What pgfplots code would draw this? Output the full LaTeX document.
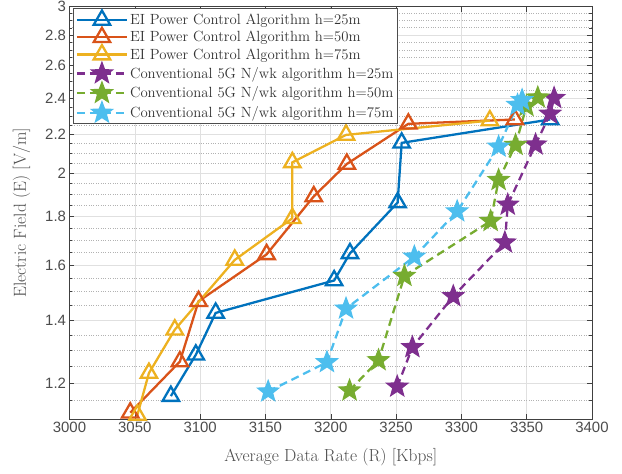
\documentclass[border=0pt]{standalone}
\usepackage{fontspec}
\setsansfont{Liberation Sans}
\usepackage{pgfplots}
\pgfplotsset{compat=1.18}
\definecolor{c1}{rgb}{0,0.447,0.741}
\definecolor{c2}{rgb}{0.850,0.325,0.098}
\definecolor{c3}{rgb}{0.929,0.694,0.125}
\definecolor{c4}{rgb}{0.494,0.184,0.556}
\definecolor{c5}{rgb}{0.466,0.674,0.188}
\definecolor{c6}{rgb}{0.301,0.745,0.933}
\pgfdeclareplotmark{pstar}{%
  \pgfpathmoveto{\pgfpointpolar{90}{\pgfplotmarksize}}%
  \pgfpathlineto{\pgfpointpolar{126}{0.42\pgfplotmarksize}}%
  \pgfpathlineto{\pgfpointpolar{162}{\pgfplotmarksize}}%
  \pgfpathlineto{\pgfpointpolar{198}{0.42\pgfplotmarksize}}%
  \pgfpathlineto{\pgfpointpolar{234}{\pgfplotmarksize}}%
  \pgfpathlineto{\pgfpointpolar{270}{0.42\pgfplotmarksize}}%
  \pgfpathlineto{\pgfpointpolar{306}{\pgfplotmarksize}}%
  \pgfpathlineto{\pgfpointpolar{342}{0.42\pgfplotmarksize}}%
  \pgfpathlineto{\pgfpointpolar{18}{\pgfplotmarksize}}%
  \pgfpathlineto{\pgfpointpolar{54}{0.42\pgfplotmarksize}}%
  \pgfpathclose
  \pgfusepathqfillstroke}
\begin{document}
\begin{tikzpicture}
\begin{axis}[
  scale only axis, width=522.5bp, height=412.3bp,
  xmin=3000, xmax=3400, ymin=1.1, ymax=3,
  ymode=log,
  xtick={3000,3050,3100,3150,3200,3250,3300,3350,3400},
  xticklabels={3000,3050,3100,3150,3200,3250,3300,3350,3400},
  ytick={1.2,1.4,1.6,1.8,2,2.2,2.4,2.6,2.8,3},
  yticklabels={1.2,1.4,1.6,1.8,2,2.2,2.4,2.6,2.8,3},
  minor ytick={1.15,1.25,1.3,1.35,1.45,1.5,1.55,1.65,1.7,1.75,1.85,1.9,1.95,2.05,2.1,2.15,2.25,2.3,2.35,2.45,2.5,2.55,2.65,2.7,2.75,2.85,2.9,2.95},
  grid=both,
  major grid style={black!12, line width=0.6pt},
  minor grid style={black!30, dotted, line width=0.6pt},
  tick align=inside,
  major tick length=5bp, minor tick length=3bp,
  every tick/.style={black!75, line width=0.5pt},
  axis line style={black!75, line width=0.6pt},
  tick label style={font=\sffamily\fontsize{15}{18}\selectfont, text=black!70},
  every axis y label/.style={at={(rel axis cs:0,0.5)}, xshift=-48bp, rotate=90, anchor=center, font=\fontsize{17.5}{21}\selectfont, text=black!70},
  every axis x label/.style={at={(rel axis cs:0.5,0)}, yshift=-38bp, anchor=center, font=\fontsize{17.5}{21}\selectfont, text=black!70},
  xlabel={Average Data Rate (R) [Kbps]},
  ylabel={Electric Field (E) [V/m]},
  legend style={at={(0,1)}, anchor=north west, xshift=4bp, yshift=-1.5bp,
    font=\fontsize{14.8}{17}\selectfont, text=black!80, draw=black!70, line width=0.6pt,
    cells={anchor=west}, row sep=-0.2bp, inner sep=2bp},
  legend image code/.code={\draw[mark repeat=2,mark phase=2] plot coordinates {(0bp,0bp) (25bp,0bp) (50bp,0bp)};},
]
\addplot[c1, line width=2.3pt, mark=triangle, mark size=9.5bp, mark options={solid}] coordinates {
(3077.6,1.163) (3096.7,1.286) (3111.9,1.424) (3202.6,1.541) (3214.7,1.646) (3251.2,1.863) (3254.3,2.154) (3368,2.28)};
\addlegendentry{EI Power Control Algorithm h=25m}
\addplot[c2, line width=2.3pt, mark=triangle, mark size=9.5bp, mark options={solid}] coordinates {
(3046.5,1.117) (3084.5,1.265) (3098.8,1.465) (3150.9,1.642) (3187.0,1.891) (3212.3,2.046) (3259.4,2.256) (3341,2.28)};
\addlegendentry{EI Power Control Algorithm h=50m}
\addplot[c3, line width=2.3pt, mark=triangle, mark size=9.5bp, mark options={solid}] coordinates {
(3052,1.111) (3060.8,1.23) (3080.6,1.367) (3126.5,1.62) (3170.6,1.793) (3170.6,2.054) (3211.7,2.196) (3321.8,2.274)};
\addlegendentry{EI Power Control Algorithm h=75m}
\addplot[c4, line width=2.3pt, dash pattern=on 8bp off 5bp, mark=pstar, mark size=11bp, mark options={solid, fill=c4, line width=1.2bp}] coordinates {
(3250.9,1.19) (3262.5,1.31) (3293.8,1.483) (3333.3,1.69) (3335.5,1.853) (3356.8,2.145) (3368,2.312) (3371,2.402)};
\addlegendentry{Conventional 5G N/wk algorithm h=25m}
\addplot[c5, line width=2.3pt, dash pattern=on 8bp off 5bp, mark=pstar, mark size=11bp, mark options={solid, fill=c5, line width=1.2bp}] coordinates {
(3214.4,1.179) (3236.6,1.269) (3256.4,1.558) (3322.4,1.781) (3328.5,1.968) (3341.5,2.143) (3349.8,2.355) (3358.5,2.405)};
\addlegendentry{Conventional 5G N/wk algorithm h=50m}
\addplot[c6, line width=2.3pt, dash pattern=on 8bp off 5bp, mark=pstar, mark size=11bp, mark options={solid, fill=c6, line width=1.2bp}] coordinates {
(3152.1,1.176) (3197.1,1.263) (3211.7,1.439) (3264,1.633) (3296.8,1.823) (3328.5,2.134) (3343,2.362) (3346.5,2.39)};
\addlegendentry{Conventional 5G N/wk algorithm h=75m}
\end{axis}
\pgfresetboundingbox
\path ([xshift=-69.5bp,yshift=-55bp]current axis.south west) rectangle ([xshift=30bp,yshift=6.7bp]current axis.north east);
\end{tikzpicture}
\end{document}
